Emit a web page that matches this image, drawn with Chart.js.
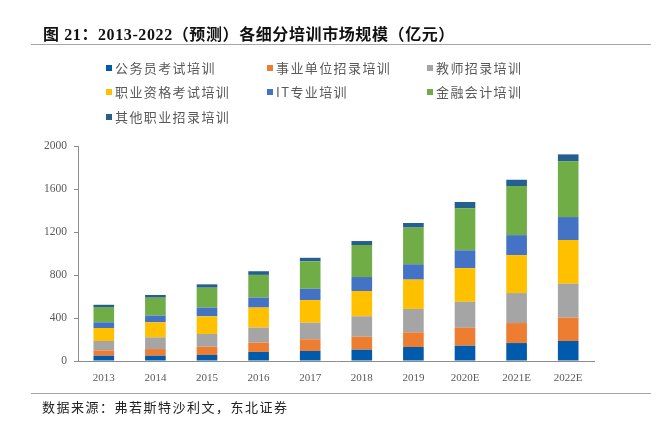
<!DOCTYPE html>
<html>
<head>
<meta charset="utf-8">
<script src="https://cdn.jsdelivr.net/npm/chart.js@4"></script>
<style>
    html, body { margin: 0; padding: 0; background: #fff; }
    body { width: 656px; height: 423px; position: relative; overflow: hidden; }
    #chartBox { position: absolute; left: 0; top: 0; width: 656px; height: 423px; }
    .title {
        position: absolute; left: 43px; top: 21px;
        font: bold 16px "Liberation Serif", "Noto Sans CJK SC", serif;
        letter-spacing: 0.6px; color: #111; white-space: nowrap;
    }
    .rule { position: absolute; left: 31px; width: 620px; height: 1px; background: #a6a6a6; }
    .legend-item {
        position: absolute; font: 13px "Noto Sans CJK SC", sans-serif;
        letter-spacing: 1.4px; color: #595959; white-space: nowrap; line-height: 16px;
    }
    .legend-item i {
        display: inline-block; width: 6px; height: 6px; margin-right: 3px;
        vertical-align: 2px;
    }
    .source {
        position: absolute; left: 42px; top: 397px;
        font: 13px "Noto Sans CJK SC", sans-serif; letter-spacing: 1.5px;
        color: #222; white-space: nowrap;
    }
</style>
</head>
<body>
<div id="chartBox"><canvas id="trainChart"></canvas></div>
<div class="title">图 21：2013-2022（预测）各细分培训市场规模（亿元）</div>
<div class="rule" style="top:44px"></div>
<div id="legend"></div>
<div class="rule" style="top:393px"></div>
<div class="source">数据来源：弗若斯特沙利文，东北证券</div>

<script>
// categories and series (亿元)
const years = ['2013', '2014', '2015', '2016', '2017', '2018', '2019', '2020E', '2021E', '2022E'];
const civilService = [49, 49, 56, 84, 93, 105, 130, 142, 167, 186];
const publicInstitution = [50, 62, 77, 87, 109, 121, 137, 167, 186, 217];
const teacher = [87, 109, 118, 140, 154, 190, 217, 242, 279, 316];
const qualification = [121, 140, 165, 186, 211, 235, 273, 313, 353, 406];
const itTraining = [53, 62, 80, 93, 105, 130, 143, 165, 186, 214];
const financeAccounting = [142, 167, 186, 211, 255, 298, 341, 391, 456, 518];
const otherVocational = [21, 25, 31, 34, 33, 37, 43, 59, 59, 65];
const yTicks = [0, 400, 800, 1200, 1600, 2000];

const seriesNames = ['公务员考试培训', '事业单位招录培训', '教师招录培训', '职业资格考试培训', 'IT专业培训', '金融会计培训', '其他职业招录培训'];
const seriesData = [civilService, publicInstitution, teacher, qualification, itTraining, financeAccounting, otherVocational];
const seriesColors = ['#005BAC', '#ED7D31', '#A5A5A5', '#FFC000', '#4472C4', '#70AD47', '#255E91'];

// legend laid out as a 3-column grid like the original
function buildLegend() {
    const box = document.getElementById('legend');
    const colX = [106, 267, 427];
    const rowY = [60, 84, 109];
    seriesNames.forEach((name, i) => {
        const div = document.createElement('div');
        div.className = 'legend-item';
        div.style.left = colX[i % 3] + 'px';
        div.style.top = rowY[Math.floor(i / 3)] + 'px';
        div.innerHTML = `<i style="background:${seriesColors[i]}"></i>${name}`;
        box.appendChild(div);
    });
}

function createChart() {
    const ctx = document.getElementById('trainChart').getContext('2d');
    const axisFont = { family: '"Liberation Serif", serif', size: 11 };

    new Chart(ctx, {
        type: 'bar',
        data: {
            labels: years,
            datasets: seriesData.map((values, i) => ({
                label: seriesNames[i],
                data: values,
                backgroundColor: seriesColors[i],
                borderWidth: 0,
                barPercentage: 0.4,
                categoryPercentage: 1
            }))
        },
        options: {
            responsive: true,
            maintainAspectRatio: false,
            animation: false,
            layout: { padding: { left: 0, top: 146, right: 62, bottom: 37 } },
            plugins: {
                legend: { display: false },
                tooltip: { enabled: false }
            },
            scales: {
                x: {
                    stacked: true,
                    grid: { display: false },
                    border: { display: true, color: '#8c8c8c', width: 1 },
                    ticks: { color: '#595959', font: axisFont, padding: 3, maxRotation: 0 },
                    afterFit: (scale) => { scale.height = 25; }
                },
                y: {
                    stacked: true,
                    min: 0,
                    max: 2000,
                    afterBuildTicks: (scale) => { scale.ticks = yTicks.map(v => ({ value: v })); },
                    grid: { drawOnChartArea: false, drawTicks: true, tickLength: 4, color: '#8c8c8c' },
                    border: { display: true, color: '#8c8c8c', width: 1 },
                    ticks: { color: '#595959', font: { family: '"Liberation Serif", serif', size: 11.5 }, padding: 7,
                             callback: (value) => String(value) },
                    afterFit: (scale) => { scale.width = 78; }
                }
            }
        }
    });
}

buildLegend();
createChart();
</script>
</body>
</html>
